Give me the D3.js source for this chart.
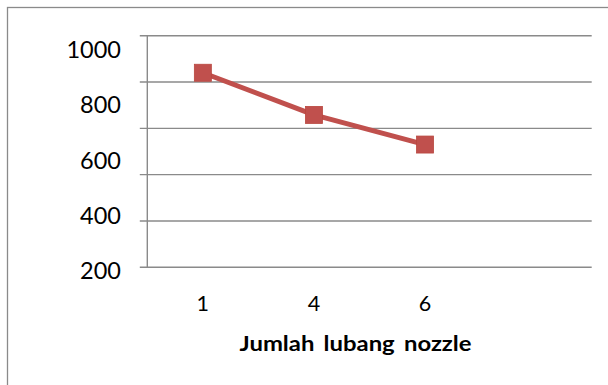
<!DOCTYPE html>
<html>
<head>
<meta charset="utf-8">
<script src="https://cdn.jsdelivr.net/npm/d3@7"></script>
<style>
html,body{margin:0;padding:0;background:#fff;}
svg{display:block;}
</style>
</head>
<body>
<svg id="chart" width="608" height="385"></svg>
<script>
// Data
const categories = ["1", "4", "6", ""];
const values = [840, 658, 530];
const gridTicks = [0, 200, 400, 600, 800, 1000];
const yLabels = ["1000", "800", "600", "400", "200"];
const xTitle = "Jumlah lubang nozzle";

const svg = d3.select("#chart");
const W = 608, H = 385;
const plot = {left: 147.3, right: 591.7, top: 35.7, bottom: 267.3};
const gridColor = "#8a8a8a";
const red = "#C0504D";
const font = "Lato, 'Open Sans', sans-serif";

svg.append("rect").attr("width", W).attr("height", H).attr("fill", "#fff");

// outer chart border
svg.append("rect")
  .attr("x", 7.5).attr("y", 7.5)
  .attr("width", W + 10).attr("height", H + 10)
  .attr("fill", "none").attr("stroke", gridColor).attr("stroke-width", 1.3);

const y = d3.scaleLinear().domain([0, 1000]).range([plot.bottom, plot.top]);
const x = d3.scaleBand().domain(categories).range([plot.left, plot.right]);
const cx = c => x(c) + x.bandwidth() / 2;

// gridlines (with tick marks extending left)
svg.append("g").selectAll("line").data(gridTicks).join("line")
  .attr("x1", plot.left - 7.5).attr("x2", plot.right)
  .attr("y1", d => y(d)).attr("y2", d => y(d))
  .attr("stroke", gridColor).attr("stroke-width", 1.4);

// y axis line
svg.append("line")
  .attr("x1", plot.left).attr("x2", plot.left)
  .attr("y1", y(1000)).attr("y2", y(0))
  .attr("stroke", gridColor).attr("stroke-width", 1.4);

// y labels (as placed in the picture)
const yl = d3.scalePoint().domain(yLabels).range([57.8, 279.3]);
svg.append("g").selectAll("text").data(yLabels).join("text")
  .attr("x", 121).attr("y", d => yl(d))
  .attr("text-anchor", "end")
  .attr("font-family", font).attr("font-size", 23.5)
  .attr("fill", "#000")
  .text(d => d);

// x labels
svg.append("g").selectAll("text").data(categories.filter(c => c !== "")).join("text")
  .attr("x", d => cx(d)).attr("y", 310.5)
  .attr("text-anchor", "middle")
  .attr("font-family", font).attr("font-size", 21.5)
  .attr("fill", "#000")
  .text(d => d);

// x title
svg.append("text")
  .attr("x", 355.5).attr("y", 351)
  .attr("text-anchor", "middle")
  .attr("font-family", font).attr("font-size", 21).attr("font-weight", "bold")
  .attr("word-spacing", 3)
  .attr("textLength", 232).attr("lengthAdjust", "spacingAndGlyphs")
  .attr("fill", "#000")
  .text(xTitle);

// line
const pts = values.map((v, i) => [cx(categories[i]), y(v)]);
svg.append("path")
  .attr("d", d3.line()(pts))
  .attr("fill", "none").attr("stroke", red).attr("stroke-width", 5)
  .attr("stroke-linejoin", "round");

// markers
const ms = 17;
svg.append("g").selectAll("rect").data(pts).join("rect")
  .attr("x", d => d[0] - ms / 2).attr("y", d => d[1] - ms / 2)
  .attr("width", ms).attr("height", ms)
  .attr("fill", red).attr("stroke", "#B9473F").attr("stroke-width", 0.8);
</script>
</body>
</html>
